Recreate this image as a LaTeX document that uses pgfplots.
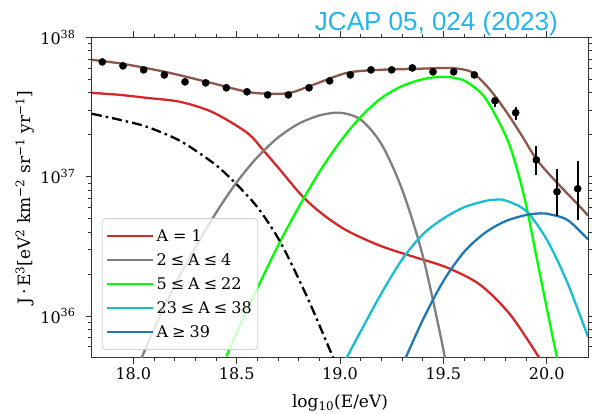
\documentclass[border=0pt]{standalone}
\usepackage{fontspec}
\setmainfont{DejaVu Serif}
\newfontfamily\titlefont{Liberation Sans}
\usepackage{pgfplots}
\pgfplotsset{compat=1.18}
\usepackage{pgfplotstable}

\definecolor{cRed}{HTML}{D62728}
\definecolor{cGray}{HTML}{7F7F7F}
\definecolor{cLime}{HTML}{00FF00}
\definecolor{cCyan}{HTML}{17BECF}
\definecolor{cBlue}{HTML}{1F77B4}
\definecolor{cBrown}{HTML}{8C564B}
\definecolor{titleblue}{RGB}{32,180,240}

\newcommand{\rel}[1]{\hspace{0.25em}#1\hspace{0.25em}}

% measured flux J E^3 with asymmetric uncertainties
\pgfplotstableread{
x     y       ep      em
17.85 6.67e37 0       0
17.95 6.25e37 0       0
18.05 5.85e37 0       0
18.15 5.38e37 0       0
18.25 4.80e37 0       0
18.35 4.72e37 0       0
18.45 4.35e37 0       0
18.55 4.07e37 0       0
18.65 3.87e37 0       0
18.75 3.87e37 0       0
18.85 4.35e37 0       0
18.95 4.88e37 0       0
19.05 5.38e37 0       0
19.15 5.85e37 0       0
19.25 5.85e37 0       0
19.35 6.04e37 0       0
19.45 5.66e37 0       0
19.55 5.66e37 0       0
19.65 5.38e37 0       0
19.75 3.51e37 0.19e37 0.33e37
19.85 2.88e37 0.30e37 0.32e37
19.95 1.32e37 0.35e37 0.29e37
20.05 7.80e36 3.6e36  2.55e36
20.15 8.20e36 4.8e36  3.3e36
}\spectrum

% A = 1
\pgfplotstableread{
x      y
17.80  4.00e37
17.935 3.87e37
18.066 3.68e37
18.226 3.45e37
18.385 2.90e37
18.55  2.07e37
18.627 1.56e37
18.71  1.12e37
18.82  7.19e36
18.918 5.35e36
19.034 4.10e36
19.193 3.20e36
19.353 2.67e36
19.517 2.23e36
19.677 1.68e36
19.822 1.03e36
19.963 5.05e35
19.99  4.3e35
}\protons

% 2 <= A <= 4
\pgfplotstableread{
x     y
18.0  3.63e35
18.1  8.04e35
18.2  1.66e36
18.3  3.09e36
18.4  5.50e36
18.5  9.12e36
18.6  1.38e37
18.7  1.91e37
18.8  2.40e37
18.9  2.75e37
19.0  2.88e37
19.1  2.57e37
19.2  1.72e37
19.3  8.13e36
19.4  2.72e36
19.5  5.75e35
19.55 2.14e35
}\helium

% 5 <= A <= 22
\pgfplotstableread{
x     y
18.45 5.13e35
18.5  7.59e35
18.6  1.58e36
18.7  3.20e36
18.8  6.03e36
18.9  1.08e37
19.0  1.78e37
19.1  2.69e37
19.2  3.67e37
19.3  4.47e37
19.4  5.01e37
19.5  5.22e37
19.6  4.90e37
19.7  3.72e37
19.8  2.00e37
19.85 1.23e37
19.9  6.31e36
19.95 2.69e36
20.0  1.15e36
20.05 5.01e35
20.1  2.24e35
}\cno

% 23 <= A <= 38
\pgfplotstableread{
x     y
19.0  4.07e35
19.1  7.76e35
19.2  1.45e36
19.3  2.54e36
19.4  3.85e36
19.5  5.01e36
19.6  6.03e36
19.7  6.68e36
19.75 6.84e36
19.8  6.76e36
19.9  5.69e36
20.0  3.55e36
20.1  1.74e36
20.2  7.08e35
}\silicon

% A >= 39
\pgfplotstableread{
x     y
19.3  4.37e35
19.4  9.33e35
19.5  1.78e36
19.6  2.88e36
19.7  3.94e36
19.8  4.79e36
19.9  5.31e36
19.97 5.46e36
20.0  5.43e36
20.1  4.90e36
20.2  3.55e36
}\iron

% galactic component (dash-dotted)
\pgfplotstableread{
x      y
17.80  2.83e37
17.935 2.56e37
18.066 2.28e37
18.226 1.81e37
18.385 1.26e37
18.482 9.36e36
18.598 6.10e36
18.71  3.42e36
18.84  1.38e36
18.966 5.05e35
18.98  4.5e35
}\galactic

% total model flux
\pgfplotstableread{
x      y
17.80  6.90e37
17.95  6.46e37
18.153 5.66e37
18.356 4.80e37
18.55  4.07e37
18.661 3.94e37
18.758 4.00e37
18.869 4.56e37
19.034 5.57e37
19.193 5.85e37
19.353 5.94e37
19.517 6.04e37
19.58  5.94e37
19.643 5.57e37
19.726 4.21e37
19.808 2.88e37
19.88  1.97e37
19.953 1.32e37
20.05  9.06e36
20.161 6.10e36
20.2   5.25e36
}\total

\begin{document}
\begin{tikzpicture}
\path[use as bounding box] (-92pt,-56pt) rectangle (500pt,358pt);
\begin{axis}[
  at={(0,0)}, anchor=south west,
  scale only axis, width=496pt, height=320.5pt,
  xmin=17.8, xmax=20.2, ymin=5e35, ymax=1e38, ymode=log,
  xtick={18,18.5,19,19.5,20},
  xticklabels={18.0,18.5,19.0,19.5,20.0},
  minor x tick num=4,
  ytick={1e36,1e37,1e38},
  yticklabels={10\textsuperscript{36},10\textsuperscript{37},10\textsuperscript{38}},
  minor ytick={6e35,7e35,8e35,9e35,2e36,3e36,4e36,5e36,6e36,7e36,8e36,9e36,2e37,3e37,4e37,5e37,6e37,7e37,8e37,9e37},
  tick align=outside,
  major tick length=6pt, minor tick length=3.5pt,
  every tick/.style={black!80, line width=0.9pt},
  axis line style={black!80, line width=1pt},
  ticklabel style={font=\fontsize{16}{19}\selectfont},
  yticklabel style={xshift=-7pt},
  xlabel={log\textsubscript{10}(E/eV)},
  ylabel={J\,·\,E\textsuperscript{3}[eV\textsuperscript{2} km\textsuperscript{−2} sr\textsuperscript{−1} yr\textsuperscript{−1}]},
  label style={font=\fontsize{17}{20}\selectfont},
  xlabel style={at={(axis description cs:0.5,-0.1404)}, anchor=center},
  ylabel style={at={(axis description cs:-0.135,0.5)}, anchor=center},
  legend style={at={(0.02,0.025)}, anchor=south west,
    draw=black!18, line width=0.8pt, rounded corners=3pt,
    fill=white, fill opacity=0.8, text opacity=1,
    font=\fontsize{16}{19}\selectfont,
    inner xsep=4pt, inner ysep=9pt, row sep=6.5pt},
  legend cell align=left,
  legend image code/.code={\draw[#1] (0pt,0pt) -- (37pt,0pt); \path (0pt,0pt) -- (46pt,0pt);},
]
\addplot[cRed, line width=2.3pt, smooth, tension=0.5] table {\protons};
\addlegendentry{A = 1}
\addplot[cGray, line width=2.3pt, smooth, tension=0.5] table {\helium};
\addlegendentry{2\rel{≤}A\rel{≤}4}
\addplot[cLime, line width=2.3pt, smooth, tension=0.5] table {\cno};
\addlegendentry{5\rel{≤}A\rel{≤}22}
\addplot[cCyan, line width=2.3pt, smooth, tension=0.5] table {\silicon};
\addlegendentry{23\rel{≤}A\rel{≤}38}
\addplot[cBlue, line width=2.3pt, smooth, tension=0.5] table {\iron};
\addlegendentry{A\rel{≥}39}
\addplot[black, line width=2.3pt, smooth, tension=0.5, dash pattern=on 10pt off 4pt on 2.5pt off 4pt, forget plot] table {\galactic};
\addplot[cBrown, line width=2.3pt, smooth, tension=0.5, forget plot] table {\total};
\addplot[black, only marks, mark=*, mark size=3.6pt, forget plot,
  error bars/.cd, y dir=both, y explicit, error mark=none,
  error bar style={line width=2.3pt, black}]
  table[x=x, y=y, y error plus=ep, y error minus=em] {\spectrum};
\end{axis}
\node[anchor=base east, inner sep=0pt, text=titleblue,
  font=\titlefont\fontsize{26}{30}\selectfont] at (466pt,327pt) {JCAP 05, 024 (2023)};
\end{tikzpicture}
\end{document}
